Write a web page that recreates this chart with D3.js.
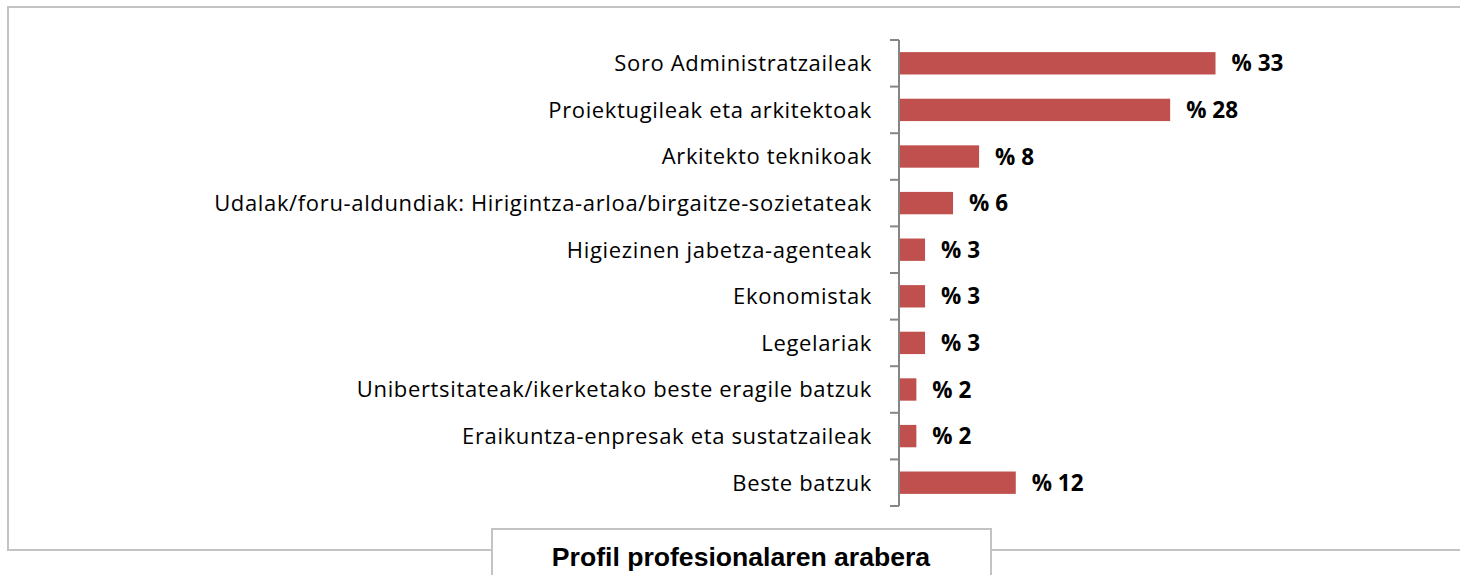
<!DOCTYPE html>
<html>
<head>
<meta charset="utf-8">
<script src="https://cdn.jsdelivr.net/npm/d3@7"></script>
<style>
  body { margin: 0; background: #fff; }
  svg { display: block; }
</style>
</head>
<body>
<svg id="chart" width="1460" height="575"></svg>
<script>
// profesional profiles, top to bottom
var categories = [
    "Soro Administratzaileak",
    "Proiektugileak eta arkitektoak",
    "Arkitekto teknikoak",
    "Udalak/foru-aldundiak: Hirigintza-arloa/birgaitze-sozietateak",
    "Higiezinen jabetza-agenteak",
    "Ekonomistak",
    "Legelariak",
    "Unibertsitateak/ikerketako beste eragile batzuk",
    "Eraikuntza-enpresak eta sustatzaileak",
    "Beste batzuk"
];
var values = [32.8, 28.1, 8.3, 5.6, 2.7, 2.7, 2.7, 1.8, 1.8, 12.1];
var title = "Profil profesionalaren arabera";

var svg = d3.select("#chart");

// outer frame
svg.append("rect")
    .attr("x", 8).attr("y", 7)
    .attr("width", 1470).attr("height", 543)
    .attr("fill", "none")
    .attr("stroke", "#c3c3c3")
    .attr("stroke-width", 2);

var x = d3.scaleLinear().domain([0, 40]).range([899, 899 + 386]);
var y = d3.scaleBand().domain(categories).range([40, 506]).paddingInner(0.52).paddingOuter(0.26);

// bars
svg.selectAll("rect.bar")
    .data(values)
    .enter()
    .append("rect")
    .attr("class", "bar")
    .attr("x", x(0))
    .attr("y", function (d, i) {return y(categories[i])})
    .attr("width", function (d) {return x(d) - x(0)})
    .attr("height", y.bandwidth())
    .attr("fill", "#c0504d");

// value labels
svg.selectAll("text.val")
    .data(values)
    .enter()
    .append("text")
    .attr("class", "val")
    .attr("x", function (d) {return x(d) + 16})
    .attr("y", function (d, i) {return y(categories[i]) + y.bandwidth() / 2})
    .attr("dy", "0.36em")
    .attr("font-family", "'Open Sans', Lato, sans-serif")
    .attr("font-weight", "bold")
    .attr("font-size", 22.5)
    .attr("fill", "#000")
    .text(function (d) {return "% " + Math.round(d)});

// category axis
var axis = svg.append("g");
axis.append("line")
    .attr("x1", 899).attr("x2", 899)
    .attr("y1", 40).attr("y2", 506)
    .attr("stroke", "#868686").attr("stroke-width", 2);
axis.selectAll("line.tick")
    .data(d3.range(categories.length + 1))
    .enter()
    .append("line")
    .attr("class", "tick")
    .attr("x1", 890).attr("x2", 899)
    .attr("y1", function (i) {return 40 + i * (466 / categories.length)})
    .attr("y2", function (i) {return 40 + i * (466 / categories.length)})
    .attr("stroke", "#868686").attr("stroke-width", 2);

svg.selectAll("text.cat")
    .data(categories)
    .enter()
    .append("text")
    .attr("class", "cat")
    .attr("x", 872)
    .attr("y", function (d) {return y(d) + y.bandwidth() / 2})
    .attr("dy", "0.36em")
    .attr("text-anchor", "end")
    .attr("font-family", "'Open Sans', Lato, sans-serif")
    .attr("font-size", 22)
    .attr("letter-spacing", 0.65)
    .attr("fill", "#000")
    .text(function (d) {return d});

// title box
svg.append("rect")
    .attr("x", 492).attr("y", 529)
    .attr("width", 499).attr("height", 60)
    .attr("fill", "#fff")
    .attr("stroke", "#c3c3c3")
    .attr("stroke-width", 2);
svg.append("text")
    .attr("x", 741).attr("y", 566)
    .attr("text-anchor", "middle")
    .attr("font-family", "'Liberation Sans', Arial, sans-serif")
    .attr("font-weight", "bold")
    .attr("font-size", 26.6)
    .attr("fill", "#000")
    .text(title);
</script>
</body>
</html>
